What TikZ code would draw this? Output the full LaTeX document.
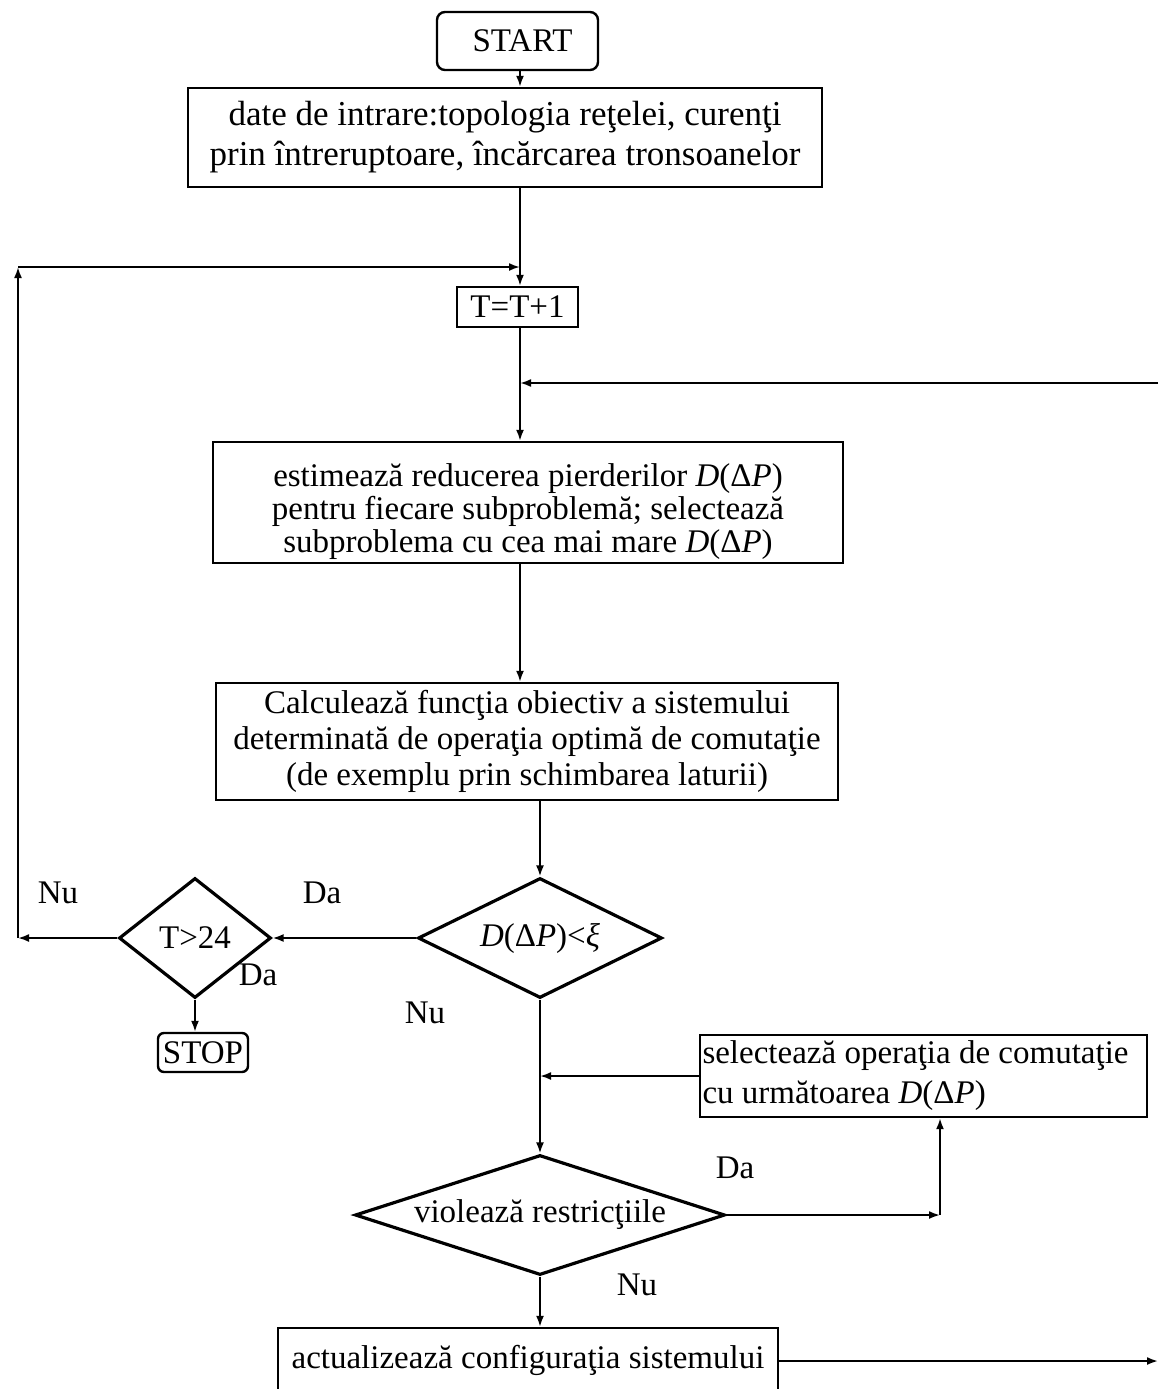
\documentclass[tikz,border=0pt]{standalone}
\usepackage{fontspec}
\setmainfont{Liberation Serif}
\usetikzlibrary{shapes.geometric,arrows.meta}
\begin{document}
\begin{tikzpicture}[x=1pt,y=-1pt,
  every node/.style={font=\fontsize{33}{38}\selectfont},
  box/.style={draw,line width=2.4pt,inner sep=0pt,align=center},
  rbox/.style={box,rounded corners=8pt},
  dia/.style={draw,diamond,line width=3.2pt,inner sep=0pt},
  conn/.style={line width=1.9pt},
  arr/.style={conn,-{Latex[length=11pt,width=8pt]}},
  lbl/.style={inner sep=0pt}
]
\useasboundingbox (0,0) rectangle (1160,1389);
% nodes
\node[rbox,minimum width=161pt,minimum height=58pt] (start) at (517.5,41) {\hspace{10pt}START};
\node[box,minimum width=634pt,minimum height=99pt,font=\fontsize{35}{40}\selectfont] (in1) at (505,137.5)
  {date de intrare:topologia reţelei, curenţi\\prin întreruptoare, încărcarea tronsoanelor};
\node[box,minimum width=121pt,minimum height=40pt] (tinc) at (517.5,307) {T=T+1};
\node[box,minimum width=630pt,minimum height=121pt,font=\fontsize{33}{33}\selectfont] (est) at (528,502.5)
  {\rule{0pt}{41pt}estimează reducerea pierderilor \textit{D}(Δ\textit{P})\\pentru fiecare subproblemă; selectează\\subproblema cu cea mai mare \textit{D}(Δ\textit{P})};
\node[box,minimum width=622pt,minimum height=117pt,font=\fontsize{33}{36}\selectfont] (calc) at (527,741.5)
  {Calculează funcţia obiectiv a sistemului\\determinată de operaţia optimă de comutaţie\\(de exemplu prin schimbarea laturii)};
\node[dia,aspect=2.03,minimum width=244pt,minimum height=120pt] (d1) at (540,938) {\textit{D}(Δ\textit{P})<\textit{ξ}};
\node[dia,aspect=1.27,minimum width=152pt,minimum height=120pt] (d2) at (195,938) {T>24};
\node[rbox,minimum width=90pt,minimum height=39pt,rounded corners=6pt] (stop) at (203,1052.5) {STOP};
\node[box,minimum height=82pt,text width=442pt,inner xsep=2.5pt,align=flush left,font=\fontsize{33}{40}\selectfont] (sel) at (923.5,1076)
  {selectează operaţia de comutaţie\\cu următoarea \textit{D}(Δ\textit{P})};
\node[dia,aspect=3.08,minimum width=370pt,minimum height=120pt] (d3) at (540,1215) {violează restricţiile};
\node[box,minimum width=500pt,minimum height=64pt] (upd) at (528,1360) {actualizează configuraţia sistemului};
% labels
\node[lbl] (l1) at (58,893) {Nu};
\node[lbl] (l2) at (322,893) {Da};
\node[lbl] (l3) at (258,975) {Da};
\node[lbl] (l4) at (425,1013) {Nu};
\node[lbl] (l5) at (735,1168) {Da};
\node[lbl] (l6) at (637,1285) {Nu};
% coordinates
\coordinate (j1) at (520,267);
\coordinate (lt) at (18,267);
\coordinate (lb) at (18,938);
\coordinate (j2) at (520,383);
\coordinate (rt) at (1158,383);
\coordinate (rb) at (1158,1361);
\coordinate (j3) at (540,1076);
\coordinate (c3) at (940,1215);
% connectors
\draw[arr] (start.south -| j1) -- (in1.north -| j1);
\draw[arr] (in1.south -| j1) -- (tinc.north -| j1);
\draw[arr] (tinc.south -| j1) -- (est.north -| j1);
\draw[arr] (est.south -| j1) -- (calc.north -| j1);
\draw[arr] (calc.south -| d1.north) -- (d1.north);
\draw[arr] (d1.west) -- (d2.east);
\draw[arr] (d2.west) -- (lb);
\draw[arr] (lb) -- (lt);
\draw[arr] (lt) -- (j1);
\draw[arr] (d2.south) -- (stop.north -| d2.south);
\draw[arr] (d1.south) -- (d3.north);
\draw[arr] (sel.west) -- (j3);
\draw[arr] (d3.east) -- (c3);
\draw[arr] (c3) -- (sel.south -| c3);
\draw[arr] (d3.south) -- (upd.north -| d3.south);
\draw[arr] (upd.east |- rb) -- (rb);
\draw[arr] (rt) -- (j2);
\end{tikzpicture}
\end{document}
